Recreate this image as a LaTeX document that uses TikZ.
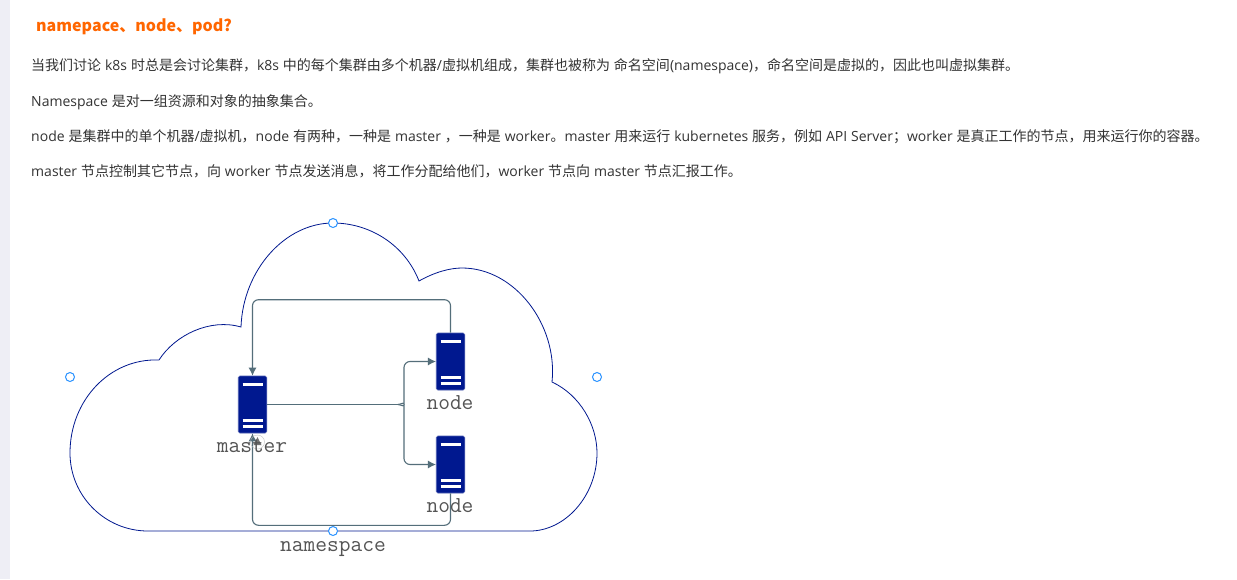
\documentclass[tikz,border=0pt]{standalone}
\usepackage{fontspec}
\setmainfont{Noto Sans CJK SC}
\newfontfamily\latinfont{Open Sans}
\newcommand{\lt}[1]{{\latinfont #1}}
\usetikzlibrary{arrows.meta}
\definecolor{side_grey}{RGB}{238,238,245}
\definecolor{title_orange}{RGB}{255,102,0}
\definecolor{body_text}{RGB}{51,51,51}
\definecolor{cloud_blue}{RGB}{0,24,143}
\definecolor{link_grey}{RGB}{84,110,122}
\definecolor{handle_blue}{RGB}{41,146,255}
\definecolor{label_grey}{RGB}{85,85,85}
\tikzset{
	para/.style={anchor=base west,inner sep=0pt,text=body_text,font=\fontsize{14}{16}\selectfont\spaceskip 3.9pt\relax},
	server/.style={draw=cloud_blue!70,fill=cloud_blue,rounded corners=1.5pt,line width=0.6pt,minimum width=28.5pt,minimum height=57pt,inner sep=0pt},
	bar/.style={white,line width=3pt},
	link/.style={link_grey,line width=1.1pt,rounded corners=6pt},
	tip/.style={-{Latex[length=8pt,width=8pt]}},
	handle/.style={circle,draw=handle_blue,fill=white,line width=1pt,minimum size=9pt,inner sep=0pt},
	tag/.style={anchor=base,inner sep=0pt,text=label_grey,font=\ttfamily\fontsize{22.8}{24}\selectfont}
}

\begin{document}
\begin{tikzpicture}[x=1pt,y=-1pt]
	\useasboundingbox (0,0) rectangle (1237,579);
	\fill[white] (0,0) rectangle (1237,579);
	\fill[side_grey] (0,0) rectangle (10,579);

	% article text
	\node[anchor=base west,inner sep=0pt,text=title_orange,font=\fontsize{16}{18}\selectfont\bfseries] (title) at (36,31) {namepace、node、pod?};
	\node[para] (line1) at (31,70) {当我们讨论 \lt{k8s} 时总是会讨论集群，\lt{k8s} 中的每个集群由多个机器\lt{/}虚拟机组成，集群也被称为 命名空间\lt{(namespace)}，命名空间是虚拟的，因此也叫虚拟集群。};
	\node[para] (line2) at (31,106) {\lt{Namespace} 是对一组资源和对象的抽象集合。};
	\node[para] (line3) at (31,141) {\lt{node} 是集群中的单个机器\lt{/}虚拟机，\lt{node} 有两种，一种是 \lt{master} ，一种是 \lt{worker}。\lt{master} 用来运行 \lt{kubernetes} 服务，例如 \lt{API Server}；\lt{worker} 是真正工作的节点，用来运行你的容器。};
	\node[para] (line4) at (31,176) {\lt{master} 节点控制其它节点，向 \lt{worker} 节点发送消息，将工作分配给他们，\lt{worker} 节点向 \lt{master} 节点汇报工作。};

	% cloud
	\draw[cloud_blue,line width=0.8pt] (148,531)
		.. controls (105,531) and (70,496) .. (70,453)
		.. controls (70,400) and (110,358) .. (159,360)
		.. controls (175,335) and (210,318) .. (241,327)
		.. controls (243,270) and (285,223) .. (333,223)
		.. controls (370,223) and (405,245) .. (419,281)
		.. controls (435,272) and (450,268) .. (462,268)
		.. controls (515,268) and (558,325) .. (552,382)
		.. controls (580,395) and (597,425) .. (597,453)
		.. controls (597,496) and (565,531) .. (530,531) -- cycle;

	\node[server] (master) at (252.5,404.5) {};
	\node[server] (worker1) at (450.5,361.5) {};
	\node[server] (worker2) at (450.5,464.5) {};

	\foreach \s in {master,worker1,worker2} {
		\draw[bar] ([shift={(-10,8.5)}]\s.north) -- ++(20,0);
		\draw[bar] ([shift={(-10,-12.5)}]\s.south) -- ++(20,0);
		\draw[bar,line width=2.4pt] ([shift={(-10,-7)}]\s.south) -- ++(20,0);
	}

	\coordinate (split) at (398,404.5);
	\draw[link] (master.east) -- (split);
	\draw[link,tip] (split) .. controls (402,404) and (404,402) .. (404,398) -- (404,361.5) -- (worker1.west);
	\draw[link,tip] (split) .. controls (402,405) and (404,407) .. (404,411) -- (404,464.5) -- (worker2.west);
	\draw[link,tip] (worker1.north) -- ++(0,-33) -| (master.north);
	\draw[link,tip] (worker2.south) -- ++(0,32) -| (master.south);

	\node[handle] (htop) at (333,223) {};
	\node[handle] (hleft) at (70,377) {};
	\node[handle] (hright) at (597,377) {};
	\node[handle] (hbottom) at (333,531) {};

	% hover mark on the master
	\node[circle,draw=black!25,minimum size=14pt,inner sep=0pt] (hover) at (257.5,442) {};
	\fill[black!55] (253.5,445) -- (257.5,437) -- (261.5,445) -- cycle;

	\node[tag] (masterlabel) at (252,452) {master};
	\node[tag] (worker1label) at (450,409.5) {node};
	\node[tag] (worker2label) at (450,512.5) {node};
	\node[tag] (nslabel) at (333,551) {namespace};
\end{tikzpicture}
\end{document}
